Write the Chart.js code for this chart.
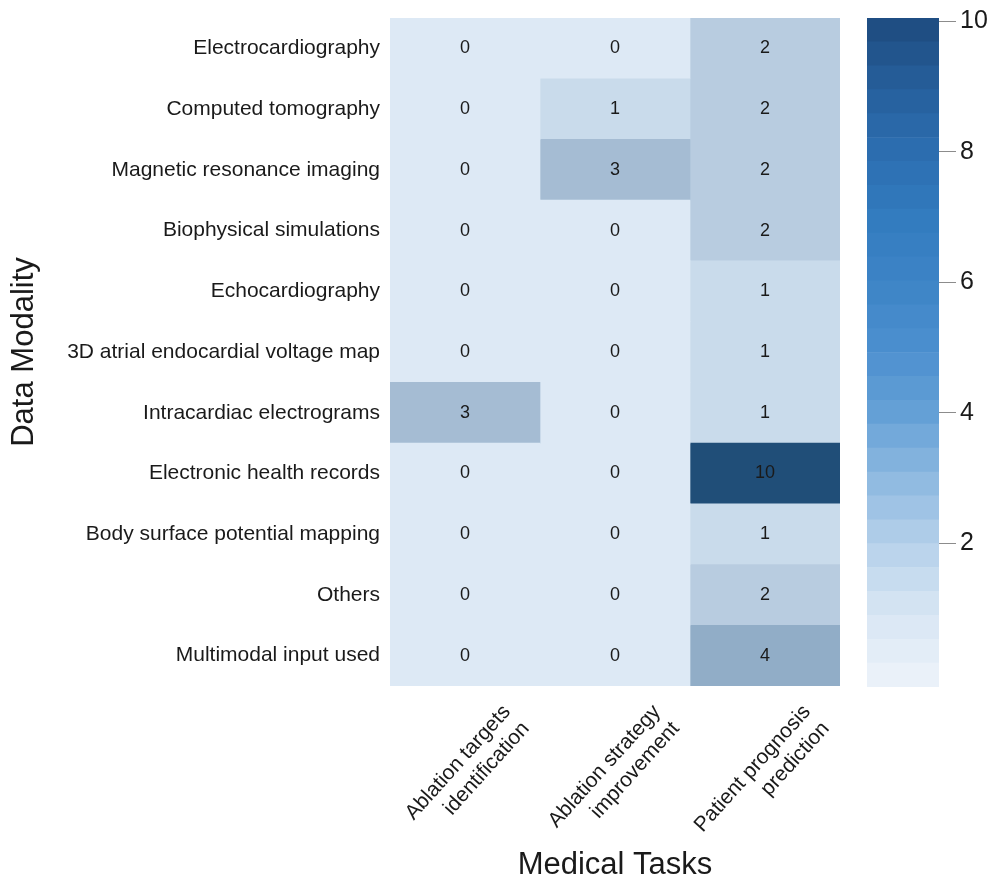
<!DOCTYPE html>
<html>
<head>
<meta charset="utf-8">
<script src="https://cdn.jsdelivr.net/npm/chart.js@4.4.1/dist/chart.umd.min.js"></script>
<style>
  html, body { margin: 0; padding: 0; background: #fff; }
  #wrap { position: relative; width: 988px; height: 881px; }
  #heat { position: absolute; left: 0; top: 0; }
  #bar { position: absolute; left: 850px; top: 0; }
</style>
</head>
<body>
<div id="wrap">
  <canvas id="heat" width="988" height="881"></canvas>
  <canvas id="bar" width="138" height="881"></canvas>
</div>
<script>
// --- Data ---
const modalities = [
  'Electrocardiography',
  'Computed tomography',
  'Magnetic resonance imaging',
  'Biophysical simulations',
  'Echocardiography',
  '3D atrial endocardial voltage map',
  'Intracardiac electrograms',
  'Electronic health records',
  'Body surface potential mapping',
  'Others',
  'Multimodal input used'
];
const tasks = [
  ['Ablation targets', 'identification'],
  ['Ablation strategy', 'improvement'],
  ['Patient prognosis', 'prediction']
];
const targetsCounts   = [0, 0, 0, 0, 0, 0, 3, 0, 0, 0, 0];
const strategyCounts  = [0, 1, 3, 0, 0, 0, 0, 0, 0, 0, 0];
const prognosisCounts = [2, 2, 2, 2, 1, 1, 1, 10, 1, 2, 4];
const colorbarTicks = [2, 4, 6, 8, 10];
const colorbarMin = -0.2;
const colorbarMax = 10.05;

// --- Colours ---
// cells are drawn a bit greyer than the colour bar, like the original
const cellStops = [[0, '#dde9f5'], [1, '#c9dbeb'], [2, '#b8cce0'], [3, '#a5bcd3'], [4, '#91adc7'], [10, '#204e78']];
const barStops = [[-0.2, '#eef3fa'], [1, '#d6e5f3'], [2, '#b5d0ea'], [3, '#8db9e0'], [4, '#64a0d6'],
                  [5, '#4c8fcf'], [6, '#3d84c6'], [7, '#327bbf'], [8, '#2c6eb0'], [9, '#265e9b'], [10.05, '#1e4b7e']];

function hexRgb(h) {
  return [parseInt(h.slice(1, 3), 16), parseInt(h.slice(3, 5), 16), parseInt(h.slice(5, 7), 16)];
}
function pickColor(stops, v) {
  if (v <= stops[0][0]) return stops[0][1];
  for (let i = 1; i < stops.length; i++) {
    if (v <= stops[i][0]) {
      const t = (v - stops[i - 1][0]) / (stops[i][0] - stops[i - 1][0]);
      const a = hexRgb(stops[i - 1][1]), b = hexRgb(stops[i][1]);
      const c = a.map((x, k) => Math.round(x + (b[k] - x) * t));
      return `rgb(${c[0]},${c[1]},${c[2]})`;
    }
  }
  return stops[stops.length - 1][1];
}

Chart.defaults.font.family = "'Liberation Sans', Arial, sans-serif";
Chart.defaults.color = '#1a1a1a';

// --- Heatmap ---
const cellText = {
  id: 'cellText',
  afterDatasetsDraw(chart) {
    const ctx = chart.ctx;
    ctx.save();
    ctx.font = "18px 'Liberation Sans', Arial, sans-serif";
    ctx.fillStyle = '#1a1a1a';
    ctx.textAlign = 'center';
    ctx.textBaseline = 'middle';
    chart.data.datasets.forEach((ds, i) => {
      chart.getDatasetMeta(i).data.forEach((el, k) => {
        const p = el.getProps(['x', 'y', 'base'], true);
        ctx.fillText(String(ds.counts[k]), (p.x + p.base) / 2, p.y);
      });
    });
    ctx.restore();
  }
};

const heatDatasets = [targetsCounts, strategyCounts, prognosisCounts].map((vals, j) => ({
  label: tasks[j].join(' '),
  data: vals.map(() => [j, j + 1]),
  counts: vals,
  backgroundColor: vals.map(v => pickColor(cellStops, v)),
  borderWidth: 0,
  grouped: false,
  barPercentage: 1,
  categoryPercentage: 1
}));

new Chart(document.getElementById('heat'), {
  type: 'bar',
  data: { labels: modalities, datasets: heatDatasets },
  plugins: [cellText],
  options: {
    indexAxis: 'y',
    responsive: false,
    animation: false,
    devicePixelRatio: 1,
    layout: { padding: { left: 0, top: 18, right: 148, bottom: 0 } },
    plugins: { legend: { display: false }, tooltip: { enabled: false } },
    scales: {
      x: {
        type: 'linear', min: 0, max: 3, position: 'bottom',
        grid: { display: false }, border: { display: false },
        afterBuildTicks: ax => { ax.ticks = [0.5, 1.5, 2.5].map(v => ({ value: v })); },
        ticks: {
          autoSkip: false, minRotation: 48, maxRotation: 48, labelOffset: 42, padding: 6,
          font: { size: 21 },
          callback: v => tasks[Math.floor(v)]
        },
        title: { display: true, text: 'Medical Tasks', font: { size: 31, lineHeight: 1 }, padding: { top: 0, bottom: 0 } },
        afterFit: ax => { ax.height = 195; ax.paddingLeft = 0; ax.paddingRight = 0; }
      },
      y: {
        grid: { display: false, drawTicks: false }, border: { display: false },
        ticks: { autoSkip: false, padding: 10, font: { size: 21 } },
        title: { display: true, text: 'Data Modality', font: { size: 31, lineHeight: 1 }, padding: { top: 9, bottom: 0 } },
        afterFit: ax => { ax.width = 390; ax.paddingTop = 0; ax.paddingBottom = 0; }
      }
    }
  }
});

// --- Colour bar ---
const bandCount = 28;
const bands = [];
for (let i = 0; i < bandCount; i++) {
  const lo = colorbarMin + (colorbarMax - colorbarMin) * i / bandCount;
  const hi = colorbarMin + (colorbarMax - colorbarMin) * (i + 1) / bandCount;
  bands.push({ lo, hi, color: pickColor(barStops, (lo + hi) / 2) });
}

new Chart(document.getElementById('bar'), {
  type: 'bar',
  data: {
    labels: [''],
    datasets: bands.map(b => ({
      data: [[b.lo, b.hi]],
      backgroundColor: b.color,
      borderWidth: 0,
      grouped: false,
      barPercentage: 1,
      categoryPercentage: 1
    }))
  },
  options: {
    responsive: false,
    animation: false,
    devicePixelRatio: 1,
    layout: { padding: { left: 17, top: 18, right: 0, bottom: 194 } },
    plugins: { legend: { display: false }, tooltip: { enabled: false } },
    scales: {
      x: { display: false },
      y: {
        position: 'right', min: colorbarMin, max: colorbarMax,
        afterBuildTicks: ax => { ax.ticks = colorbarTicks.map(v => ({ value: v })); },
        grid: { drawOnChartArea: false, drawTicks: true, tickLength: 17, color: '#8c8c8c', lineWidth: 1 },
        border: { display: false },
        ticks: { padding: 4, font: { size: 25 } },
        afterFit: ax => { ax.width = 49; ax.paddingTop = 0; ax.paddingBottom = 0; }
      }
    }
  }
});
</script>
</body>
</html>
